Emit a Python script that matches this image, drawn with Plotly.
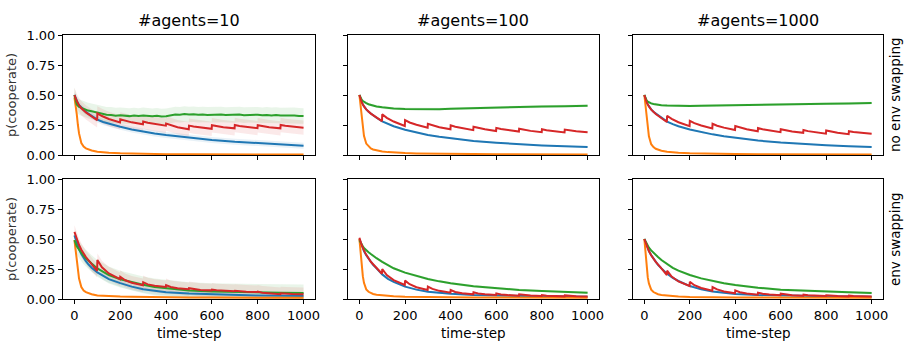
import plotly.graph_objects as go

# ---------------- time grids ----------------
T = [0, 5, 10, 15, 20, 30, 40, 50, 60, 75, 100, 125, 150, 200, 250, 300, 350, 400,
     500, 600, 700, 800, 900, 1000]
T_RED = [0, 5, 10, 20, 30, 50, 75, 99,
         100, 120, 150, 199, 200, 220, 250, 299, 300, 320, 350, 399,
         400, 420, 450, 499, 500, 520, 550, 599, 600, 620, 650, 699,
         700, 720, 750, 799, 800, 820, 850, 899, 900, 920, 950, 1000]
T_NOISY = [0, 5, 10, 20, 40, 60, 80, 100, 120, 140, 160, 180, 200, 220, 240, 260, 280,
           300, 320, 340, 360, 380, 400, 420, 440, 460, 480, 500, 520, 540, 560, 580,
           600, 620, 640, 660, 680, 700, 720, 740, 760, 780, 800, 820, 840, 860, 880,
           900, 920, 940, 960, 980, 1000]

COL_TITLES = ["#agents=10", "#agents=100", "#agents=1000"]
ROW_LABELS = ["no env swapping", "env swapping"]
X_TICKS = [0, 200, 400, 600, 800, 1000]
Y_TICKS = [0.0, 0.25, 0.5, 0.75, 1.0]
Y_TICK_TEXT = ["0.00", "0.25", "0.50", "0.75", "1.00"]

# ---------------- #agents=10, no env swapping ----------------
BLUE_10_NS = [0.5, 0.47, 0.45, 0.43, 0.415, 0.395, 0.375, 0.36, 0.345, 0.325, 0.295, 0.275,
              0.26, 0.236, 0.213, 0.195, 0.18, 0.167, 0.143, 0.125, 0.11, 0.099, 0.088, 0.078]
ORANGE_10_NS = [0.48, 0.42, 0.34, 0.25, 0.18, 0.10, 0.07, 0.055, 0.046, 0.038, 0.028, 0.022,
                0.018, 0.014, 0.011, 0.009, 0.008, 0.007, 0.006, 0.005, 0.005, 0.004, 0.004, 0.004]
GREEN_10_NS = [0.5, 0.45, 0.42, 0.40, 0.385, 0.37, 0.362, 0.352, 0.345, 0.336, 0.334, 0.328,
               0.331, 0.326, 0.324, 0.329, 0.325, 0.33, 0.326, 0.322, 0.327, 0.32, 0.323, 0.33,
               0.338, 0.336, 0.341, 0.337, 0.34, 0.335, 0.338, 0.334, 0.337, 0.335, 0.338,
               0.333, 0.336, 0.334, 0.337, 0.332, 0.335, 0.333, 0.336, 0.331, 0.334, 0.33,
               0.333, 0.329, 0.331, 0.327, 0.33, 0.326, 0.325]
RED_10_NS = [0.5, 0.47, 0.45, 0.415, 0.39, 0.355, 0.32, 0.29,
             0.347, 0.325, 0.300, 0.272, 0.297, 0.285, 0.272, 0.256,
             0.278, 0.268, 0.257, 0.244, 0.262, 0.248, 0.232, 0.214,
             0.245, 0.237, 0.228, 0.218, 0.248, 0.24, 0.232, 0.222,
             0.25, 0.242, 0.234, 0.224, 0.248, 0.24, 0.232, 0.222,
             0.25, 0.243, 0.236, 0.228]

# ---------------- #agents=100, no env swapping ----------------
BLUE_100_NS = [0.5, 0.465, 0.44, 0.42, 0.405, 0.38, 0.36, 0.345, 0.33, 0.31, 0.28, 0.258,
               0.24, 0.21, 0.186, 0.167, 0.152, 0.139, 0.117, 0.102, 0.089, 0.08, 0.072, 0.066]
ORANGE_100_NS = [0.5, 0.41, 0.33, 0.23, 0.16, 0.095, 0.07, 0.055, 0.046, 0.038, 0.03, 0.024,
                 0.02, 0.016, 0.013, 0.011, 0.01, 0.009, 0.008, 0.007, 0.006, 0.006, 0.005, 0.005]
GREEN_100_NS = [0.5, 0.475, 0.46, 0.45, 0.443, 0.432, 0.423, 0.417, 0.411, 0.405, 0.397, 0.391,
                0.387, 0.384, 0.382, 0.381, 0.382, 0.385, 0.391, 0.396, 0.4, 0.404, 0.407, 0.41]
RED_100_NS = [0.5, 0.465, 0.44, 0.405, 0.38, 0.345, 0.31, 0.282,
              0.339, 0.31, 0.279, 0.242, 0.29, 0.271, 0.252, 0.228,
              0.26, 0.247, 0.232, 0.215, 0.247, 0.235, 0.222, 0.207,
              0.236, 0.225, 0.214, 0.2, 0.226, 0.217, 0.207, 0.195,
              0.219, 0.21, 0.201, 0.19, 0.214, 0.206, 0.198, 0.188,
              0.212, 0.205, 0.198, 0.19]

# ---------------- #agents=1000, no env swapping ----------------
BLUE_1000_NS = [0.5, 0.465, 0.44, 0.42, 0.405, 0.38, 0.36, 0.345, 0.33, 0.308, 0.278, 0.257,
                0.24, 0.213, 0.19, 0.172, 0.156, 0.143, 0.12, 0.104, 0.091, 0.081, 0.073, 0.066]
ORANGE_1000_NS = [0.5, 0.4, 0.31, 0.22, 0.155, 0.09, 0.066, 0.052, 0.044, 0.036, 0.028, 0.023,
                  0.019, 0.015, 0.012, 0.01, 0.009, 0.008, 0.007, 0.006, 0.006, 0.005, 0.005, 0.005]
GREEN_1000_NS = [0.5, 0.47, 0.455, 0.445, 0.438, 0.43, 0.425, 0.421, 0.418, 0.415, 0.412, 0.41,
                 0.409, 0.409, 0.41, 0.411, 0.413, 0.415, 0.418, 0.421, 0.424, 0.427, 0.43, 0.433]
RED_1000_NS = [0.5, 0.465, 0.44, 0.405, 0.378, 0.342, 0.305, 0.275,
               0.327, 0.301, 0.273, 0.24, 0.285, 0.266, 0.246, 0.222,
               0.26, 0.244, 0.228, 0.208, 0.242, 0.229, 0.215, 0.198,
               0.224, 0.214, 0.203, 0.19, 0.215, 0.206, 0.196, 0.185,
               0.208, 0.199, 0.189, 0.178, 0.204, 0.195, 0.185, 0.174,
               0.198, 0.192, 0.185, 0.177]

# ---------------- #agents=10, env swapping ----------------
BLUE_10_S = [0.53, 0.5, 0.47, 0.44, 0.415, 0.375, 0.34, 0.315, 0.29, 0.26, 0.222, 0.19,
             0.165, 0.132, 0.103, 0.082, 0.067, 0.057, 0.045, 0.038, 0.033, 0.029, 0.027, 0.025]
ORANGE_10_S = [0.49, 0.41, 0.31, 0.23, 0.17, 0.1, 0.07, 0.057, 0.05, 0.04, 0.03, 0.026,
               0.023, 0.02, 0.018, 0.016, 0.015, 0.014, 0.013, 0.012, 0.011, 0.011, 0.01, 0.01]
GREEN_10_S = [0.49, 0.46, 0.44, 0.425, 0.41, 0.385, 0.36, 0.34, 0.32, 0.295, 0.255, 0.225,
              0.2, 0.165, 0.14, 0.118, 0.1, 0.088, 0.07, 0.062, 0.057, 0.054, 0.052, 0.05]
RED_10_S = [0.56, 0.53, 0.5, 0.45, 0.41, 0.35, 0.29, 0.235,
            0.325, 0.264, 0.213, 0.165, 0.185, 0.158, 0.136, 0.115,
            0.14, 0.122, 0.11, 0.1, 0.115, 0.1, 0.09, 0.082,
            0.09, 0.082, 0.076, 0.072, 0.078, 0.072, 0.068, 0.065,
            0.068, 0.064, 0.061, 0.058, 0.062, 0.053, 0.046, 0.04,
            0.047, 0.044, 0.042, 0.04]

# ---------------- #agents=100, env swapping ----------------
BLUE_100_S = [0.5, 0.47, 0.445, 0.42, 0.4, 0.365, 0.335, 0.31, 0.285, 0.255, 0.205, 0.168,
              0.142, 0.103, 0.078, 0.061, 0.05, 0.043, 0.034, 0.028, 0.025, 0.022, 0.02, 0.019]
ORANGE_100_S = [0.5, 0.38, 0.27, 0.19, 0.135, 0.08, 0.06, 0.048, 0.042, 0.036, 0.03, 0.025,
                0.022, 0.018, 0.016, 0.015, 0.014, 0.013, 0.012, 0.012, 0.011, 0.011, 0.011, 0.011]
GREEN_100_S = [0.49, 0.47, 0.455, 0.44, 0.425, 0.405, 0.39, 0.375, 0.36, 0.34, 0.31, 0.28,
               0.256, 0.22, 0.192, 0.167, 0.147, 0.131, 0.106, 0.089, 0.076, 0.066, 0.059, 0.053]
RED_100_S = [0.51, 0.475, 0.45, 0.405, 0.368, 0.31, 0.258, 0.21,
             0.25, 0.199, 0.157, 0.117, 0.153, 0.123, 0.098, 0.075,
             0.103, 0.084, 0.068, 0.053, 0.075, 0.059, 0.048, 0.039,
             0.056, 0.046, 0.039, 0.033, 0.047, 0.038, 0.033, 0.028,
             0.039, 0.033, 0.029, 0.025, 0.033, 0.028, 0.025, 0.022,
             0.03, 0.025, 0.022, 0.02]

# ---------------- #agents=1000, env swapping ----------------
BLUE_1000_S = [0.5, 0.47, 0.445, 0.42, 0.4, 0.365, 0.335, 0.31, 0.285, 0.255, 0.21, 0.176,
               0.15, 0.108, 0.08, 0.062, 0.05, 0.042, 0.033, 0.028, 0.024, 0.022, 0.02, 0.019]
ORANGE_1000_S = [0.5, 0.37, 0.26, 0.18, 0.13, 0.078, 0.058, 0.046, 0.04, 0.034, 0.028, 0.024,
                 0.021, 0.017, 0.015, 0.014, 0.013, 0.012, 0.012, 0.011, 0.011, 0.011, 0.01, 0.01]
GREEN_1000_S = [0.5, 0.48, 0.46, 0.443, 0.428, 0.405, 0.385, 0.367, 0.35, 0.325, 0.29, 0.26,
                0.236, 0.2, 0.172, 0.15, 0.132, 0.117, 0.094, 0.078, 0.069, 0.061, 0.056, 0.05]
RED_1000_S = [0.5, 0.47, 0.445, 0.4, 0.365, 0.31, 0.255, 0.2,
              0.236, 0.187, 0.146, 0.108, 0.144, 0.115, 0.092, 0.069,
              0.1, 0.08, 0.063, 0.047, 0.072, 0.056, 0.045, 0.036,
              0.053, 0.043, 0.037, 0.031, 0.044, 0.037, 0.032, 0.028,
              0.036, 0.031, 0.028, 0.025, 0.031, 0.027, 0.024, 0.022,
              0.028, 0.025, 0.023, 0.021]

# band half-widths (blue, orange, green, red) per panel
SPREAD_10_NS = [0.025, 0.006, 0.065, 0.06]
SPREAD_100_NS = [0.006, 0.003, 0.011, 0.007]
SPREAD_1000_NS = [0.006, 0.003, 0.011, 0.007]
SPREAD_10_S = [0.03, 0.008, 0.07, 0.055]
SPREAD_100_S = [0.006, 0.003, 0.01, 0.007]
SPREAD_1000_S = [0.006, 0.003, 0.01, 0.007]

COLORS = ["#1f77b4", "#ff7f0e", "#2ca02c", "#d62728"]
BAND_COLORS = ["rgba(31,119,180,0.1)", "rgba(255,127,14,0.1)",
               "rgba(44,160,44,0.1)", "rgba(214,39,40,0.1)"]

PANELS = [
    ([(T, BLUE_10_NS), (T, ORANGE_10_NS), (T_NOISY, GREEN_10_NS), (T_RED, RED_10_NS)], SPREAD_10_NS),
    ([(T, BLUE_100_NS), (T, ORANGE_100_NS), (T, GREEN_100_NS), (T_RED, RED_100_NS)], SPREAD_100_NS),
    ([(T, BLUE_1000_NS), (T, ORANGE_1000_NS), (T, GREEN_1000_NS), (T_RED, RED_1000_NS)], SPREAD_1000_NS),
    ([(T, BLUE_10_S), (T, ORANGE_10_S), (T, GREEN_10_S), (T_RED, RED_10_S)], SPREAD_10_S),
    ([(T, BLUE_100_S), (T, ORANGE_100_S), (T, GREEN_100_S), (T_RED, RED_100_S)], SPREAD_100_S),
    ([(T, BLUE_1000_S), (T, ORANGE_1000_S), (T, GREEN_1000_S), (T_RED, RED_1000_S)], SPREAD_1000_S),
]

W, H = 914, 354
COL_PX = [(63, 315), (348, 599), (633, 883)]
ROW_PX = [(35, 155), (179, 299)]
FONT = "DejaVu Sans"

fig = go.Figure()
layout = {}
for i, (series, spreads) in enumerate(PANELS):
    r, c = divmod(i, 3)
    xa = "x" if i == 0 else f"x{i+1}"
    ya = "y" if i == 0 else f"y{i+1}"
    # bands
    for k, (tx, vals) in enumerate(series):
        s = spreads[k]
        up = [v + s for v in vals]
        lo = [v - s for v in vals]
        fig.add_trace(go.Scatter(x=list(tx) + list(tx)[::-1], y=up + lo[::-1],
                                 fill="toself", fillcolor=BAND_COLORS[k],
                                 line=dict(width=0), mode="lines", hoverinfo="skip",
                                 showlegend=False, xaxis=xa, yaxis=ya))
    for k, (tx, vals) in enumerate(series):
        fig.add_trace(go.Scatter(x=tx, y=vals, mode="lines",
                                 line=dict(color=COLORS[k], width=2),
                                 showlegend=False, xaxis=xa, yaxis=ya))
    x0, x1 = COL_PX[c]
    y0, y1 = ROW_PX[r]
    xkey = "xaxis" if i == 0 else f"xaxis{i+1}"
    ykey = "yaxis" if i == 0 else f"yaxis{i+1}"
    layout[xkey] = dict(domain=[x0 / W, x1 / W], range=[-50, 1050], anchor=ya,
                        tickvals=X_TICKS, showticklabels=(r == 1), automargin=False,
                        ticks="outside", ticklen=4, tickwidth=1, tickcolor="black",
                        showline=True, linecolor="black", linewidth=1, mirror=True,
                        showgrid=False, zeroline=False,
                        tickfont=dict(family=FONT, size=13, color="black"))
    layout[ykey] = dict(domain=[1 - y1 / H, 1 - y0 / H], range=[0, 1], anchor=xa,
                        tickvals=Y_TICKS, ticktext=Y_TICK_TEXT, showticklabels=(c == 0),
                        automargin=False,
                        ticks="outside", ticklen=4, tickwidth=1, tickcolor="black",
                        showline=True, linecolor="black", linewidth=1, mirror=True,
                        showgrid=False, zeroline=False,
                        tickfont=dict(family=FONT, size=13, color="black"))

annotations = []
for c, title in enumerate(COL_TITLES):
    cx = (COL_PX[c][0] + COL_PX[c][1]) / 2 / W
    annotations.append(dict(text=title, x=cx, y=1 - 21 / H, xref="paper", yref="paper",
                            showarrow=False, xanchor="center", yanchor="middle",
                            font=dict(family=FONT, size=16, color="black")))
    annotations.append(dict(text="time-step", x=cx, y=1 - 333 / H, xref="paper", yref="paper",
                            showarrow=False, xanchor="center", yanchor="middle",
                            font=dict(family=FONT, size=13.5, color="black")))
for r, lab in enumerate(ROW_LABELS):
    cy = 1 - (ROW_PX[r][0] + ROW_PX[r][1]) / 2 / H
    annotations.append(dict(text="p(cooperate)", x=11 / W, y=cy, xref="paper", yref="paper",
                            showarrow=False, xanchor="center", yanchor="middle", textangle=-90,
                            font=dict(family=FONT, size=13, color="#333333")))
    annotations.append(dict(text=lab, x=895 / W, y=cy, xref="paper", yref="paper",
                            showarrow=False, xanchor="center", yanchor="middle", textangle=-90,
                            font=dict(family=FONT, size=13.5, color="black")))

fig.update_layout(width=W, height=H, margin=dict(l=0, r=0, t=0, b=0),
                  paper_bgcolor="white", plot_bgcolor="white",
                  annotations=annotations, **layout)
fig.write_html("out.html", config={"displayModeBar": False})

# remove the browser's default page margin so the figure sits at (0, 0)
with open("out.html", "r", encoding="utf-8") as f:
    html = f.read()
html = html.replace("<head>", "<head><style>html,body{margin:0;padding:0;overflow:hidden;}</style>", 1)
with open("out.html", "w", encoding="utf-8") as f:
    f.write(html)
